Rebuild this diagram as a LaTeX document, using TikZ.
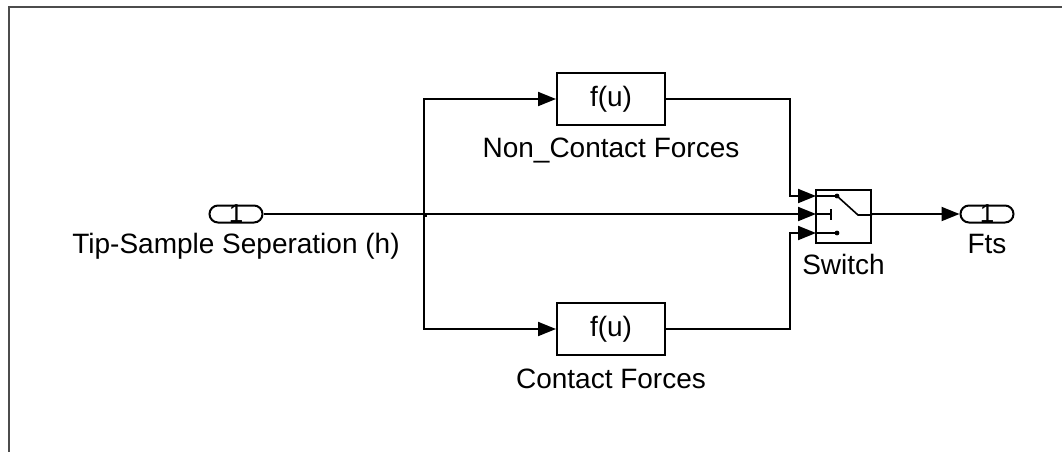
\documentclass[tikz,border=0pt]{standalone}
\usepackage{fontspec}
\setmainfont{Liberation Sans}
\usetikzlibrary{arrows.meta,positioning,shapes.misc}

\begin{document}
\begin{tikzpicture}[
    x=0.5pt, y=-0.5pt,
    line width=1pt,
    every node/.style={font=\fontsize{14}{16}\selectfont},
    % blocchi funzione
    blk/.style={draw, minimum width=54pt, minimum height=26pt, inner sep=0pt},
    % porte di ingresso/uscita
    port/.style={draw, rounded rectangle, minimum width=26.5pt, minimum height=8.5pt, inner sep=0pt},
    portnum/.style={font=\fontsize{13}{13}\selectfont, inner sep=0pt},
    % etichette sotto i blocchi
    tag/.style={inner sep=0pt},
    % segnali
    sig/.style={-{Triangle[length=9pt,width=7pt]}}
]
\useasboundingbox (0,0) rectangle (1062,452);

% --- cornice ---
\draw[gray!60!black, line width=1.3pt] (1062,7) -- (9,7) -- (9,452);

% --- BLOCCHI ---
\node[port, label={[portnum]center:1}] (inh) at (236,214) {};
\node[blk] (ncf) at (611,99) {f(u)};
\node[blk] (cf) at (611,329) {f(u)};
\node[draw, minimum width=27.5pt, minimum height=26.5pt, inner sep=0pt] (sw) at (843.5,216.5) {};
\node[port, label={[portnum]center:1}] (fts) at (987,214) {};

% --- etichette ---
\node[tag, below=4.5pt of inh] {Tip-Sample Seperation (h)};
\node[tag, below=5.5pt of ncf] {Non\_Contact Forces};
\node[tag, below=6pt of cf] {Contact Forces};
\node[tag, below=4.5pt of sw] {Switch};
\node[tag, below=5pt of fts] {Fts};

% --- punti ausiliari ---
\coordinate (split) at (424,214);
\coordinate (sw1) at (816,196);
\coordinate (sw2) at (816,214);
\coordinate (sw3) at (816,233);
\coordinate (bend1) at (790,196);
\coordinate (bend3) at (790,233);

% --- SEGNALI ---
\draw[sig] (inh.east) -- (sw2);
\draw[sig] (split) |- (ncf.west);
\draw[sig] (split) |- (cf.west);
\draw[sig] (ncf.east) -| (bend1) -- (sw1);
\draw[sig] (cf.east) -| (bend3) -- (sw3);
\draw[sig] (sw.east |- inh) -- (fts.west);
\fill (split) rectangle ++(3,3);

% --- simbolo interno dello switch ---
\draw[line width=0.8pt] (sw1) -- (837,196) -- (858,215) -- (sw.east |- 858,215);
\draw[line width=0.8pt] (sw2) -- (831,214) (831,209) -- (831,220);
\draw[line width=0.8pt] (sw3) -- (837,233);
\fill (837,196) circle (1.2pt) (837,233) circle (1.2pt);

\end{tikzpicture}
\end{document}
